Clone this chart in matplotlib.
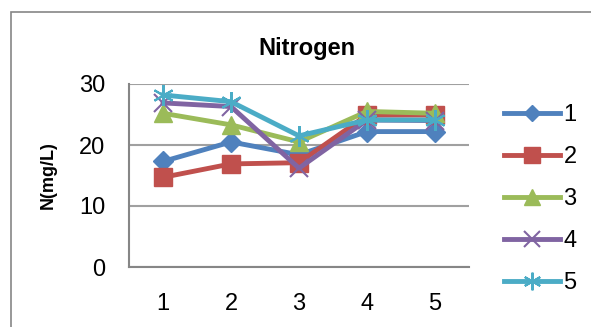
import matplotlib.pyplot as plt
from matplotlib.patches import Rectangle

plt.rcParams['font.family'] = ['Liberation Sans', 'DejaVu Sans']

# sampling points and nitrogen readings for each series
points = [1, 2, 3, 4, 5]
series_names = ['1', '2', '3', '4', '5']
s1 = [17.3, 20.5, 18.4, 22.2, 22.2]
s2 = [14.7, 16.9, 17.1, 24.9, 24.9]
s3 = [25.2, 23.3, 20.5, 25.5, 25.2]
s4 = [26.9, 26.3, 16.2, 24.1, 24.0]
s5 = [28.2, 27.1, 21.5, 24.1, 24.1]

colors = ['#4F81BD', '#C0504D', '#9BBB59', '#8064A2', '#4BACC6']
markers = ['D', 's', '^', 'x', (6, 2, 0)]
sizes = [10, 13, 13, 13, 15]

fig = plt.figure(figsize=(5.91, 3.27), dpi=100)
ax = fig.add_axes([129 / 591, 1 - 267 / 327, 340 / 591, 183 / 327])

# chart area border
fig.patches.append(Rectangle((11 / 591, -0.1), 1.2, 1.1 - 12 / 327,
                             transform=fig.transFigure, fill=False,
                             edgecolor='#868686', linewidth=1.2))

xpos = list(range(len(points)))
for vals, name, c, m, ms in zip([s1, s2, s3, s4, s5], series_names,
                                colors, markers, sizes):
    ax.plot(xpos, vals, color=c, linewidth=3.5, marker=m, markersize=ms,
            markeredgecolor=c, markeredgewidth=1.5 if m in ('x', (6, 2, 0)) else 1,
            label=name)

ax.set_xlim(-0.5, len(points) - 0.5)
ax.set_ylim(0, 30)
ax.set_yticks([0, 10, 20, 30])
ax.set_xticks(xpos)
ax.set_xticklabels([str(p) for p in points])
ax.tick_params(length=0, labelsize=17, colors='black')
ax.tick_params(axis='y', pad=17)
ax.tick_params(axis='x', pad=19)

ax.grid(axis='y', color='#A0A0A0', linewidth=1.5)
ax.set_axisbelow(True)
for side in ['top', 'right']:
    ax.spines[side].set_visible(False)
for side in ['left', 'bottom']:
    ax.spines[side].set_color('#868686')
    ax.spines[side].set_linewidth(1.5)

fig.text(307 / 591, 1 - 49 / 327, 'Nitrogen', fontsize=17, fontweight='bold',
         ha='center', va='center')
fig.text(48 / 591, 1 - 175 / 327, 'N(mg/L)', fontsize=13, fontweight='bold',
         rotation=90, ha='center', va='center')

ax.legend(loc='center left', bbox_to_anchor=(495 / 591, 1 - 199 / 327),
          bbox_transform=fig.transFigure, frameon=False, fontsize=17,
          handlelength=2.35, handletextpad=0.15, labelspacing=0.85,
          borderaxespad=0, markerscale=0.85)

fig.savefig('out.png', dpi=100)
